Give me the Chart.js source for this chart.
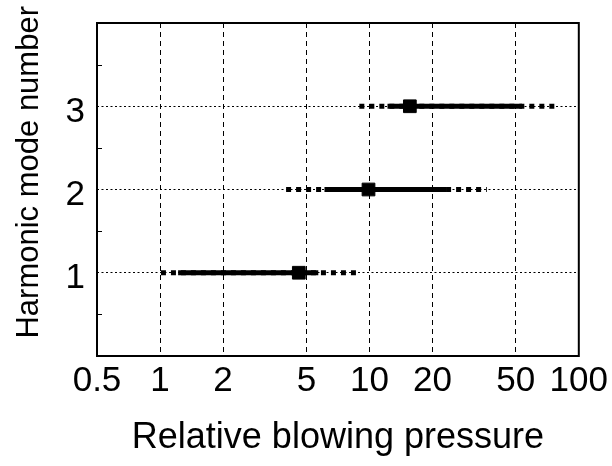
<!DOCTYPE html>
<html>
<head>
<meta charset="utf-8">
<title>Harmonic mode vs blowing pressure</title>
<script src="https://cdn.jsdelivr.net/npm/chart.js@4.4.1/dist/chart.umd.min.js"></script>
<style>
  html, body { margin: 0; padding: 0; background: #fff; }
</style>
</head>
<body>
<canvas id="modeChart" width="612" height="466"></canvas>
<script>
// Values (x in relative blowing pressure, log scale)
const modes = [1, 2, 3];
const dottedFrom = [1.01, 4.0, 8.95];
const solidFrom = [1.22, 6.1, 12.2];
const centres = [4.6, 9.9, 15.6];
const solidTo = [5.7, 23.4, 53.6];
const dottedTo = [8.8, 36.4, 79];

const xTickValues = [0.5, 1, 2, 5, 10, 20, 50, 100];
const xTickLabels = ["0.5", "1", "2", "5", "10", "20", "50", "100"];
const yTickValues = [1, 2, 3];
const yMinorTicks = [0.5, 1.5, 2.5, 3.5];

const fontFamily = "'Liberation Sans', Arial, Helvetica, sans-serif";

// One dotted range, one solid range and one square marker per mode
const datasets = [];
modes.forEach((m, i) => {
    datasets.push({
        data: [{ x: centres[i], y: m }],
        pointStyle: "rect",
        pointRadius: 9,
        backgroundColor: "#000",
        borderColor: "#000",
        order: 0,
    });
    datasets.push({
        data: [{ x: solidFrom[i], y: m }, { x: solidTo[i], y: m }],
        showLine: true,
        borderColor: "#000",
        borderWidth: 5,
        pointRadius: 0,
        order: 1,
    });
    datasets.push({
        data: [{ x: dottedFrom[i], y: m }, { x: dottedTo[i], y: m }],
        showLine: true,
        borderColor: "#000",
        borderWidth: 5,
        borderDash: [5, 5],
        pointRadius: 0,
        order: 2,
    });
});

// Frame around the plot area plus the small inward ticks on the left axis
const framePlugin = {
    id: "frame",
    afterDraw(chart) {
        const { ctx, chartArea } = chart;
        const yScale = chart.scales.y;
        ctx.save();
        ctx.strokeStyle = "#000";
        ctx.lineWidth = 2;
        ctx.strokeRect(chartArea.left, chartArea.top,
            chartArea.right - chartArea.left, chartArea.bottom - chartArea.top);
        ctx.lineWidth = 1;
        yMinorTicks.forEach(v => {
            const py = Math.round(yScale.getPixelForValue(v)) + 0.5;
            ctx.beginPath();
            ctx.moveTo(chartArea.left, py);
            ctx.lineTo(chartArea.left + 5, py);
            ctx.stroke();
        });
        ctx.restore();
    },
};

const ctx = document.getElementById("modeChart").getContext("2d");

new Chart(ctx, {
    type: "scatter",
    data: { datasets: datasets },
    options: {
        responsive: false,
        animation: false,
        layout: {
            padding: { top: 23, right: 31, left: 0, bottom: 0 },
        },
        plugins: {
            legend: { display: false },
            tooltip: { enabled: false },
        },
        scales: {
            x: {
                type: "logarithmic",
                min: 0.5,
                max: 100,
                afterBuildTicks: (scale) => {
                    scale.ticks = xTickValues.map(v => ({ value: v }));
                },
                afterFit: (scale) => { scale.height = 110; },
                ticks: {
                    autoSkip: false,
                    maxRotation: 0,
                    padding: 4,
                    color: "#000",
                    font: { family: fontFamily, size: 35 },
                    callback: (value) => {
                        const idx = xTickValues.indexOf(value);
                        return idx >= 0 ? xTickLabels[idx] : "";
                    },
                },
                grid: {
                    drawTicks: false,
                    lineWidth: 1,
                    color: (c) => (c.tick && c.tick.value > 0.5 && c.tick.value < 100)
                        ? "#000" : "rgba(0,0,0,0)",
                },
                border: { display: false, dash: [5, 4] },
                title: {
                    display: true,
                    text: "Relative blowing pressure",
                    color: "#000",
                    font: { family: fontFamily, size: 36 },
                    padding: { top: 0, bottom: 6 },
                },
            },
            y: {
                min: 0,
                max: 4,
                afterFit: (scale) => {
                    scale.width = 97;
                    scale.paddingTop = 0;
                    scale.paddingBottom = 0;
                },
                ticks: {
                    stepSize: 0.5,
                    autoSkip: false,
                    padding: 12,
                    labelOffset: 6,
                    color: "#000",
                    font: { family: fontFamily, size: 35 },
                    callback: (value) => yTickValues.includes(value) ? String(value) : null,
                },
                grid: {
                    drawTicks: false,
                    lineWidth: 1,
                    color: (c) => (c.tick && yTickValues.includes(c.tick.value))
                        ? "#000" : "rgba(0,0,0,0)",
                },
                border: { display: false, dash: [2, 2.5] },
                title: {
                    display: true,
                    text: "    Harmonic mode number",
                    color: "#000",
                    font: { family: fontFamily, size: 31 },
                    padding: { top: 11, bottom: 0 },
                },
            },
        },
    },
    plugins: [framePlugin],
});
</script>
</body>
</html>
